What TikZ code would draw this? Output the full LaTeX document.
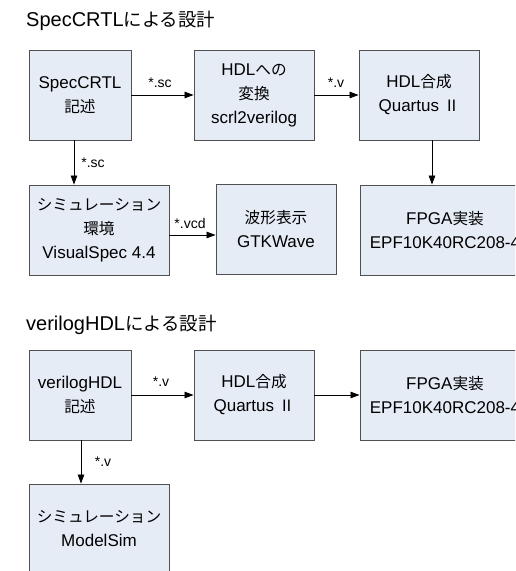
\documentclass[tikz,border=0pt]{standalone}
\usepackage{fontspec}
\setmainfont{Liberation Sans}
\newfontfamily\jpfont[Scale=0.92]{Noto Sans CJK JP}
\newcommand\jt[1]{{\jpfont #1}}
\usetikzlibrary{arrows.meta}
\definecolor{boxfill}{HTML}{E6ECF6}
\definecolor{boxline}{HTML}{505050}
\tikzset{
  box/.style={draw=boxline, fill=boxfill, line width=0.9pt, align=center, inner sep=0pt,
    font=\fontsize{17}{24}\selectfont},
  arr/.style={draw=black, line width=0.8pt, -{Triangle[length=9pt,width=6.5pt]}},
  lbl/.style={inner sep=0pt, font=\fontsize{14}{16}\selectfont},
  ttl/.style={inner sep=0pt, anchor=west, font=\fontsize{20}{24}\selectfont}
}
\begin{document}
\begin{tikzpicture}[x=1pt,y=-1pt]
\clip (0,0) rectangle (515,571);
\fill[white] (0,0) rectangle (515,571);
% titles
\node[ttl] (t1) at (26,21) {SpecCRTL\jt{による設計}};
\node[ttl] (t2) at (26,325) {verilogHDL\jt{による設計}};
% upper flow
\node[box, minimum width=102pt, minimum height=90pt] (b1) at (80,95) {SpecCRTL\\\jt{記述}};
\node[box, minimum width=120pt, minimum height=90pt] (b2) at (254,95) {HDL\jt{への}\\\jt{変換}\\scrl2verilog};
\node[box, minimum width=120pt, minimum height=90pt] (b3) at (419,95) {HDL\jt{合成}\\Quartus \jt{Ⅱ}};
\node[box, minimum width=140pt, minimum height=90pt] (b4) at (99,230) {\jt{シミュレーション}\\\jt{環境}\\VisualSpec 4.4};
\node[box, minimum width=120pt, minimum height=90pt] (b5) at (276,229) {\jt{波形表示}\\GTKWave};
\node[box, minimum width=170pt, minimum height=90pt] (b6) at (445,230) {FPGA\jt{実装}\\EPF10K40RC208-4};
% lower flow
\node[box, minimum width=102pt, minimum height=90pt] (b7) at (80,395) {verilogHDL\\\jt{記述}};
\node[box, minimum width=120pt, minimum height=90pt] (b8) at (254,395) {HDL\jt{合成}\\Quartus \jt{Ⅱ}};
\node[box, minimum width=170pt, minimum height=90pt] (b9) at (445,395) {FPGA\jt{実装}\\EPF10K40RC208-4};
\node[box, minimum width=140pt, minimum height=90pt] (b10) at (99,529) {\jt{シミュレーション}\\ModelSim};
% connectors
\draw[arr] (b1.east) -- (b2.west);
\draw[arr] (b2.east) -- (b3.west);
\draw[arr] ([xshift=13pt]b3.south) -- ([xshift=13pt]b3.south |- b6.north);
\draw[arr] ([xshift=-6pt]b1.south) -- ([xshift=-6pt]b1.south |- b4.north);
\draw[arr] ([yshift=-5pt]b4.east) -- ([yshift=-5pt]b4.east -| b5.west);
\draw[arr] (b7.east) -- (b8.west);
\draw[arr] (b8.east) -- (b9.west);
\draw[arr] ([xshift=1pt]b7.south) -- ([xshift=1pt]b7.south |- b10.north);
% labels
\node[lbl] (l1) at (160,83) {*.sc};
\node[lbl] (l2) at (336,83) {*.v};
\node[lbl] (l3) at (93,163) {*.sc};
\node[lbl] (l4) at (190,223) {*.vcd};
\node[lbl] (l5) at (161,382) {*.v};
\node[lbl] (l6) at (103,462) {*.v};
\end{tikzpicture}
\end{document}
